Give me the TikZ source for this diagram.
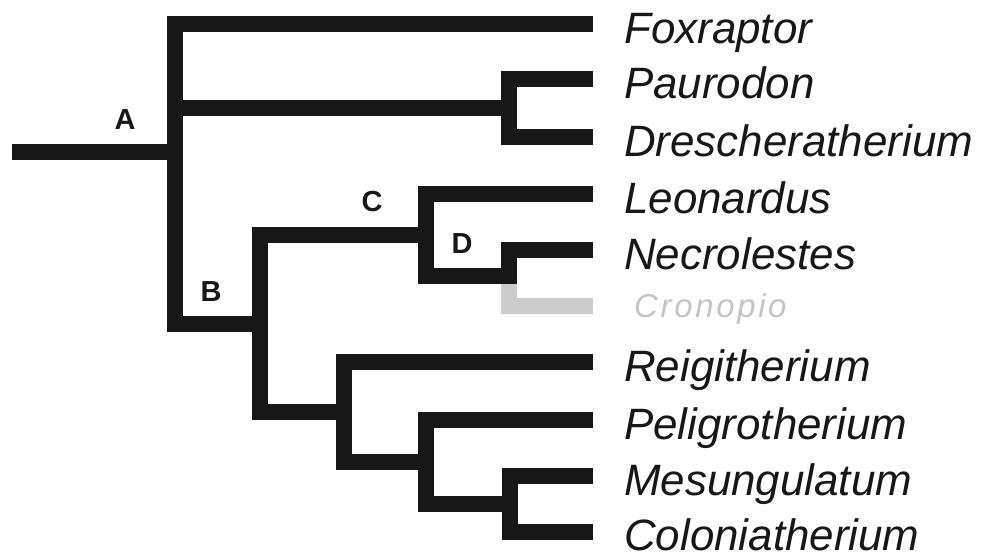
\documentclass[tikz,border=0pt]{standalone}
\usepackage{fontspec}
\setmainfont{Liberation Sans}
\newfontfamily\cronofont[LetterSpace=8]{Liberation Sans}
\definecolor{branchblack}{HTML}{171717}
\definecolor{branchgray}{HTML}{CBCCCB}
\definecolor{textgray}{HTML}{C4C4C4}
\tikzset{
  branch/.style={draw=branchblack, line width=16pt, line cap=butt, line join=miter},
  graybranch/.style={draw=branchgray, line width=16pt, line cap=butt, line join=miter},
  taxon/.style={anchor=base west, inner sep=0pt, text=branchblack, font=\fontsize{43.9}{50}\selectfont\itshape},
  grtaxon/.style={anchor=base west, inner sep=0pt, text=textgray, font=\fontsize{33}{38}\selectfont\cronofont\itshape},
  cladelabel/.style={anchor=base, inner sep=0pt, text=branchblack, font=\fontsize{29}{34}\selectfont\bfseries}
}
\begin{document}
\begin{tikzpicture}[x=1pt, y=-1pt]
\useasboundingbox (0,0) rectangle (987,558);
% tips
\coordinate (root) at (12,152);
\coordinate (tFox) at (593,23.5);
\coordinate (tPau) at (593,79);
\coordinate (tDre) at (593,137);
\coordinate (tLeo) at (593,193.5);
\coordinate (tNec) at (593,250);
\coordinate (tCro) at (593,305.5);
\coordinate (tRei) at (593,362);
\coordinate (tPel) at (593,420);
\coordinate (tMes) at (593,476);
\coordinate (tCol) at (593,532);
% internal nodes
\coordinate (nA) at (175,152);
\coordinate (nPD) at (509,107.5);
\coordinate (nB) at (259.5,323.5);
\coordinate (nC) at (425.5,234.5);
\coordinate (nD) at (509,276);
\coordinate (nR) at (344,411.5);
\coordinate (nP) at (425.5,462);
\coordinate (nM) at (509.5,504);
% branches
\draw[branch] (root) -- (nA);
\draw[branch] (tFox) -| (nA) |- (nB);
\draw[branch] (nA |- nPD) -- (nPD);
\draw[branch] (tPau) -| (nPD) |- (tDre);
\draw[branch] (nC) -| (nB) |- (nR);
\draw[branch] (tLeo) -| (nC) |- ([xshift=8pt]nD);
\draw[branch] (tNec) -| (nD);
\draw[graybranch] ([yshift=-8pt]nD) |- (tCro);
\draw[branch] (tRei) -| (nR) |- (nP);
\draw[branch] (tPel) -| (nP) |- (nM);
\draw[branch] (tMes) -| (nM) |- (tCol);
% clade labels
\node[cladelabel] (lA) at (125,129) {A};
\node[cladelabel] (lB) at (211,301) {B};
\node[cladelabel] (lC) at (372,211) {C};
\node[cladelabel] (lD) at (462,253) {D};
% taxon labels
\node[taxon] (lFox) at (624,43) {Foxraptor};
\node[taxon] (lPau) at (624,98.5) {Paurodon};
\node[taxon] (lDre) at (624,156.5) {Drescheratherium};
\node[taxon] (lLeo) at (624,213) {Leonardus};
\node[taxon] (lNec) at (624,269.5) {Necrolestes};
\node[grtaxon] (lCro) at (634,317) {Cronopio};
\node[taxon] (lRei) at (624,381.5) {Reigitherium};
\node[taxon] (lPel) at (624,439.5) {Peligrotherium};
\node[taxon] (lMes) at (624,495.5) {Mesungulatum};
\node[taxon] (lCol) at (624,550.5) {Coloniatherium};
\end{tikzpicture}
\end{document}
